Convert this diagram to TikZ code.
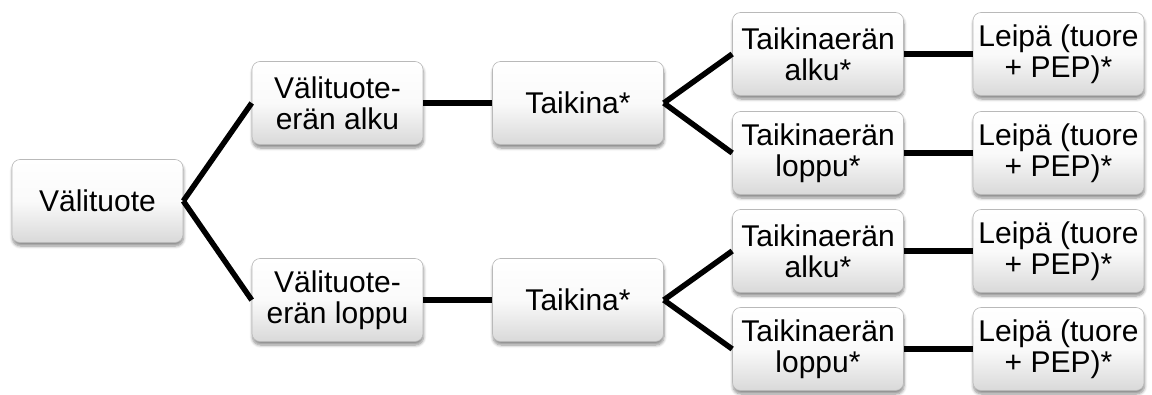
\documentclass[tikz,border=0pt]{standalone}
\usepackage{fontspec}
\setmainfont{Liberation Sans}
\usetikzlibrary{shadows.blur}
\tikzset{
  box/.style={
    rounded corners=8pt, draw=gray!55, line width=0.6pt,
    top color=white, bottom color=gray!30, middle color=white!96!gray,
    minimum width=171pt, minimum height=83pt, inner sep=0pt,
    align=center, font=\fontsize{30}{31}\selectfont,
    blur shadow={shadow xshift=0.5pt, shadow yshift=-3.5pt, shadow blur steps=6, shadow opacity=45, shadow blur radius=3pt}
  },
  link/.style={line width=5.5pt, black}
}
\begin{document}
\begin{tikzpicture}[x=1pt, y=-1pt]
\useasboundingbox (0,0) rectangle (1152,394);
% root
\node[box] (v) at (97.5,201) {Välituote};
% intermediate batches
\node[box] (a1) at (337.5,103) {Välituote-\\erän alku};
\node[box] (a2) at (337.5,300) {Välituote-\\erän loppu};
% doughs
\node[box] (t1) at (578,103) {Taikina*};
\node[box] (t2) at (578,300) {Taikina*};
% dough batches
\node[box] (k1) at (818,54) {Taikinaerän\\alku*};
\node[box] (k2) at (818,153) {Taikinaerän\\loppu*};
\node[box] (k3) at (818,251) {Taikinaerän\\alku*};
\node[box] (k4) at (818,349) {Taikinaerän\\loppu*};
% breads
\node[box] (l1) at (1058.5,54) {Leipä (tuore\\+ PEP)*};
\node[box] (l2) at (1058.5,153) {Leipä (tuore\\+ PEP)*};
\node[box] (l3) at (1058.5,251) {Leipä (tuore\\+ PEP)*};
\node[box] (l4) at (1058.5,349) {Leipä (tuore\\+ PEP)*};
% connectors
\draw[link] (v.east) -- (a1.west);
\draw[link] (v.east) -- (a2.west);
\draw[link] (a1.east) -- (t1.west);
\draw[link] (a2.east) -- (t2.west);
\draw[link] (t1.east) -- (k1.west);
\draw[link] (t1.east) -- (k2.west);
\draw[link] (t2.east) -- (k3.west);
\draw[link] (t2.east) -- (k4.west);
\draw[link] (k1.east) -- (l1.west);
\draw[link] (k2.east) -- (l2.west);
\draw[link] (k3.east) -- (l3.west);
\draw[link] (k4.east) -- (l4.west);
\end{tikzpicture}
\end{document}
